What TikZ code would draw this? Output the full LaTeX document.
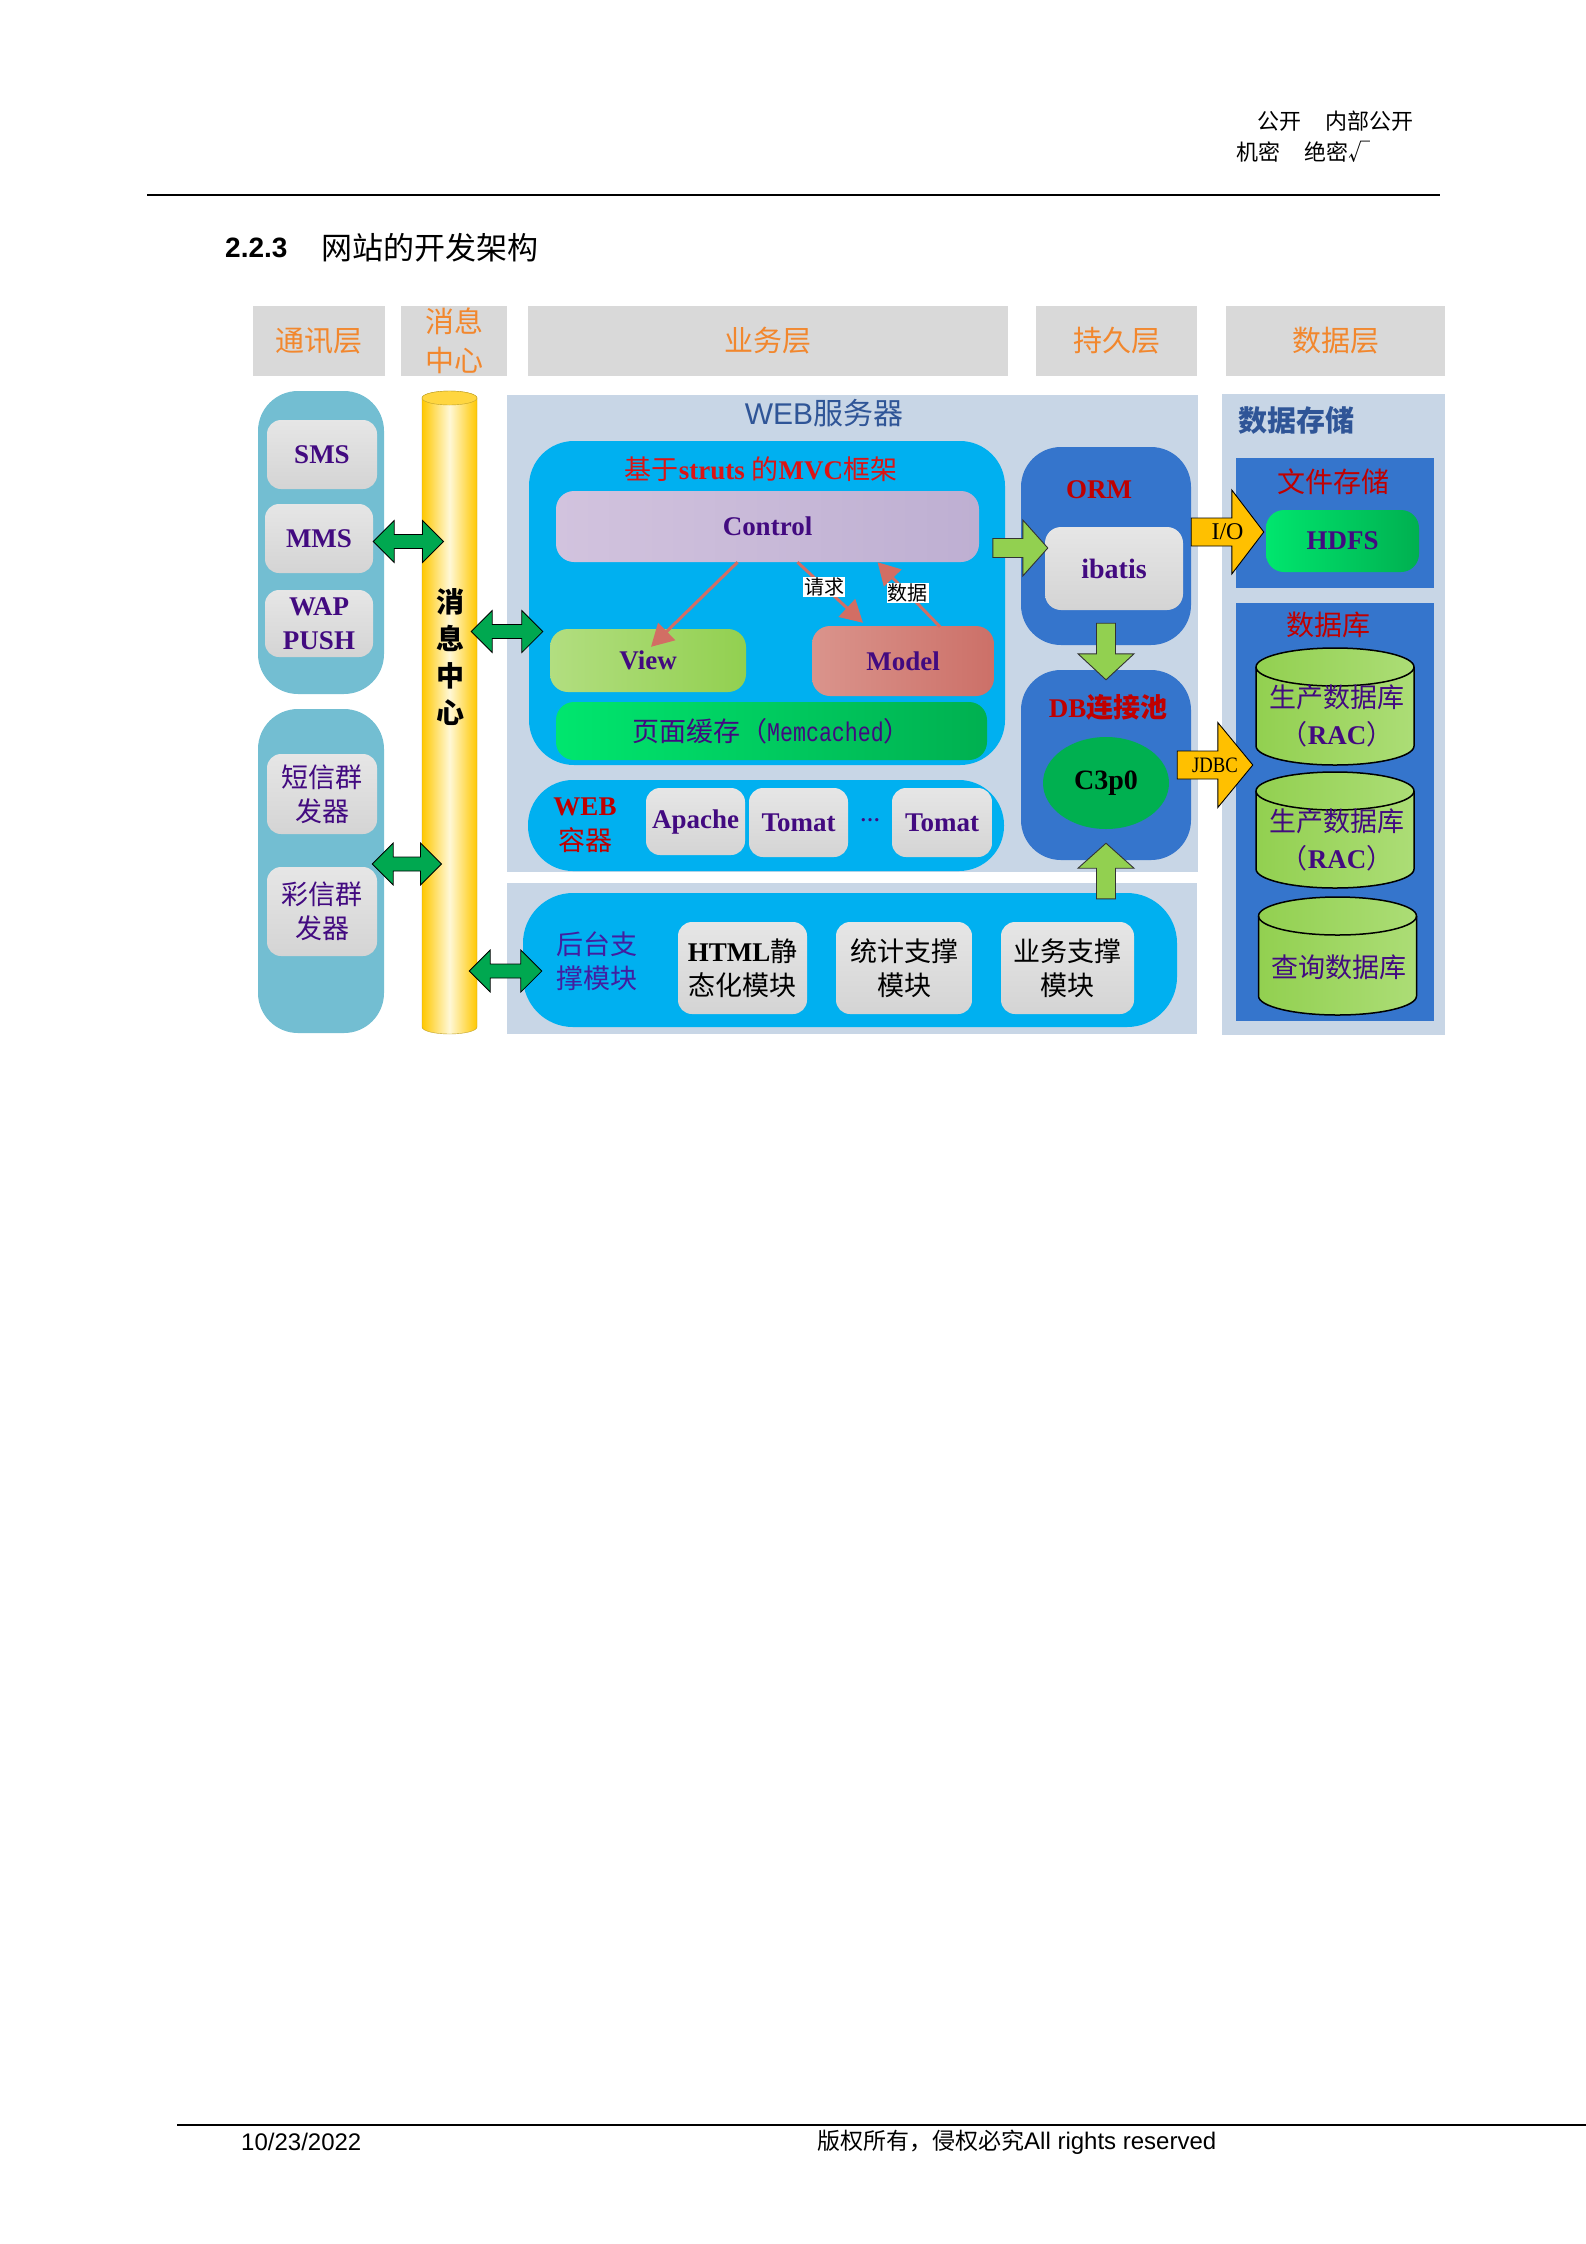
\documentclass[tikz,border=0pt]{standalone}
\usepackage{fontspec}
\usepackage{graphicx}
\setmainfont{Liberation Serif}
\newfontfamily\cnfont{Noto Sans CJK SC}
\newfontfamily\hvfont{Liberation Sans}
\newfontfamily\ttmfont{Liberation Mono}
\usetikzlibrary{calc,shapes.geometric,arrows.meta}
\definecolor{hdrgray}{RGB}{217,217,217}
\definecolor{hdrorange}{RGB}{242,135,45}
\definecolor{commblue}{RGB}{115,190,210}
\definecolor{boxtop}{RGB}{230,230,230}
\definecolor{boxbot}{RGB}{212,212,212}
\definecolor{txtpurple}{RGB}{66,10,128}
\definecolor{busgold}{RGB}{255,200,0}
\definecolor{busglow}{RGB}{255,248,215}
\definecolor{busedge}{RGB}{190,160,40}
\definecolor{arrowgreen}{RGB}{0,168,80}
\definecolor{panelgray}{RGB}{200,214,230}
\definecolor{titleblue}{RGB}{47,85,151}
\definecolor{mvccyan}{RGB}{0,176,240}
\definecolor{titlered}{RGB}{220,20,20}
\definecolor{darkred}{RGB}{192,0,0}
\definecolor{ctrlleft}{RGB}{210,195,222}
\definecolor{ctrlright}{RGB}{190,175,210}
\definecolor{viewleft}{RGB}{178,222,128}
\definecolor{viewright}{RGB}{146,208,80}
\definecolor{modelleft}{RGB}{218,148,140}
\definecolor{modelright}{RGB}{204,112,104}
\definecolor{cacheleft}{RGB}{0,230,110}
\definecolor{cacheright}{RGB}{0,176,80}
\definecolor{mvcarrow}{RGB}{210,110,100}
\definecolor{ormblue}{RGB}{53,117,204}
\definecolor{limegreen}{RGB}{146,208,80}
\definecolor{ioyellow}{RGB}{255,192,0}
\definecolor{poolgreen}{RGB}{0,176,80}
\definecolor{bgpurple}{RGB}{66,30,160}
\definecolor{dbleft}{RGB}{146,208,80}
\definecolor{dbright}{RGB}{172,221,118}
% block arrow: [style]{tail}{tip}{half shaft}{half head}{head length}
\newcommand{\blockarrow}[6][]{%
  \coordinate (ba-a) at (#2);
  \coordinate (ba-b) at (#3);
  \coordinate (ba-h) at ($(ba-b)!#6pt!(ba-a)$);
  \filldraw[#1] ($(ba-a)!#4pt!90:(ba-b)$) -- ($(ba-h)!#4pt!90:(ba-b)$) -- ($(ba-h)!#5pt!90:(ba-b)$) -- (ba-b)
    -- ($(ba-h)!#5pt!-90:(ba-b)$) -- ($(ba-h)!#4pt!-90:(ba-b)$) -- ($(ba-a)!#4pt!-90:(ba-b)$) -- cycle;
}
% double block arrow: [style]{tip}{tip}{half shaft}{half head}{head length}
\newcommand{\dblarrow}[6][]{%
  \coordinate (da-a) at (#2);
  \coordinate (da-b) at (#3);
  \coordinate (da-h) at ($(da-a)!#6pt!(da-b)$);
  \coordinate (da-k) at ($(da-b)!#6pt!(da-a)$);
  \filldraw[#1] (da-a) -- ($(da-h)!#5pt!90:(da-b)$) -- ($(da-h)!#4pt!90:(da-b)$) -- ($(da-k)!#4pt!90:(da-b)$)
    -- ($(da-k)!#5pt!90:(da-b)$) -- (da-b) -- ($(da-k)!#5pt!-90:(da-b)$) -- ($(da-k)!#4pt!-90:(da-b)$)
    -- ($(da-h)!#4pt!-90:(da-b)$) -- ($(da-h)!#5pt!-90:(da-b)$) -- cycle;
}
\begin{document}
\begin{tikzpicture}[x=1pt, y=-1pt,
  hdr/.style={fill=hdrgray, minimum height=70pt, inner sep=0pt, text=hdrorange, align=center, font=\cnfont\fontsize{29}{39}\selectfont},
  lpanel/.style={fill=commblue, rounded corners=40pt, minimum width=126pt, inner sep=0pt},
  gbox/.style={top color=boxtop, bottom color=boxbot, rounded corners=14pt, inner sep=0pt, text=txtpurple, align=center, font=\bfseries\fontsize{27}{34}\selectfont},
  cn/.style={font=\cnfont\fontsize{27}{34}\selectfont},
  mvcbox/.style={rounded corners=18pt, inner sep=0pt, text=txtpurple, font=\bfseries\fontsize{27}{32}\selectfont},
  redlbl/.style={text=darkred, font=\bfseries\fontsize{27}{32}\selectfont},
  flow/.style={draw=mvcarrow, line width=3pt, -{Triangle[length=22pt, width=24pt]}},
  tag/.style={fill=white, inner sep=1pt, font=\cnfont\fontsize{20}{24}\selectfont},
  dblarr/.style={fill=arrowgreen, draw=black, line width=0.8pt},
  limearr/.style={fill=limegreen, draw=black!80, line width=0.9pt},
  yarr/.style={fill=ioyellow, draw=black, line width=0.9pt}]

\useasboundingbox (0,0) rectangle (1586,2244);

% Page header
\node[anchor=east, font=\cnfont\fontsize{22}{26}\selectfont] (secA) at (1417,121) {公开\hspace{24pt}内部公开};
\node[anchor=east, font=\cnfont\fontsize{22}{26}\selectfont] (secB) at (1374,152) {机密\hspace{24pt}绝密√};
\draw[line width=2pt] (147,195) -- (1440,195);
\node[anchor=west, inner sep=0pt, font=\hvfont\bfseries\fontsize{28}{32}\selectfont] (secnum) at (225,248) {2.2.3};
\node[anchor=west, inner sep=0pt, font=\cnfont\fontsize{31}{36}\selectfont] (sectitle) at (321,248) {网站的开发架构};

% Column headers
\node[hdr, minimum width=132pt] (hcomm) at (319,341) {通讯层};
\node[hdr, minimum width=106pt] (hmsg) at (454,341) {消息\\中心};
\node[hdr, minimum width=480pt] (hbiz) at (768,341) {业务层};
\node[hdr, minimum width=161pt] (hper) at (1116.5,341) {持久层};
\node[hdr, minimum width=219pt] (hdata) at (1335.5,341) {数据层};

% Communication layer
\node[lpanel, minimum height=303pt] (comm1) at (321,542.5) {};
\node[lpanel, minimum height=324pt] (comm2) at (321,871) {};
\node[gbox, minimum width=110pt, minimum height=69pt] (sms) at (322,454.5) {SMS};
\node[gbox, minimum width=108pt, minimum height=69pt] (mms) at (319,538.5) {MMS};
\node[gbox, minimum width=108pt, minimum height=67pt] (wap) at (319,623.5) {WAP\\PUSH};
\node[gbox, cn, minimum width=110pt, minimum height=80pt] (dxq) at (322,794) {短信群\\发器};
\node[gbox, cn, minimum width=110pt, minimum height=89pt] (cxq) at (322,911.5) {彩信群\\发器};

% Message bus
\shadedraw[left color=busgold, right color=busgold, middle color=busglow, draw=busedge]
  (422,398) -- (422,1027) arc[start angle=180, end angle=360, x radius=27.5pt, y radius=7pt]
  -- (477,398) arc[start angle=0, end angle=180, x radius=27.5pt, y radius=7pt] -- cycle;
\filldraw[fill=busgold!70!busglow, draw=busedge] (449.5,398) ellipse [x radius=27.5pt, y radius=7pt];
\node[minimum width=55pt, minimum height=643pt, inner sep=0pt] (bus) at (449.5,712.5) {};
\node[align=center, font=\cnfont\bfseries\fontsize{28}{37}\selectfont] (bustext) at (450,657) {消\\息\\中\\心};

% Web server panels
\node[fill=panelgray, minimum width=691pt, minimum height=477pt, inner sep=0pt] (websrv) at (852.5,633.5) {};
\node[text=titleblue, font=\hvfont\fontsize{30}{34}\selectfont] (websrvlbl) at (824,413) {WEB{\cnfont 服务器}};
\node[fill=panelgray, minimum width=690pt, minimum height=151pt, inner sep=0pt] (support) at (852,958.5) {};

% MVC framework
\node[fill=mvccyan, rounded corners=45pt, minimum width=476pt, minimum height=324pt, inner sep=0pt] (mvc) at (767,603) {};
\node[text=titlered, font=\bfseries\fontsize{27}{32}\selectfont] (mvclbl) at (761,469) {{\cnfont\mdseries 基于}struts {\cnfont\mdseries 的}MVC{\cnfont\mdseries 框架}};
\node[mvcbox, left color=ctrlleft, right color=ctrlright, minimum width=423pt, minimum height=71pt] (control) at (767.5,526.5) {Control};
\node[mvcbox, left color=viewleft, right color=viewright, minimum width=196pt, minimum height=63pt] (view) at (648,660.5) {View};
\node[mvcbox, left color=modelleft, right color=modelright, minimum width=182pt, minimum height=70pt] (model) at (903,661) {Model};
\node[mvcbox, left color=cacheleft, right color=cacheright, minimum width=431pt, minimum height=58pt, font=\cnfont\fontsize{27}{32}\selectfont] (cache) at (771.5,731) {页面缓存（\scalebox{0.8}[1]{\ttmfont\fontsize{27}{32}\selectfont Memcached}）};

% MVC flows
\draw[flow] ($(control.south)+(-30,0)$) -- ($(view.north)+(3,18)$);
\draw[flow] ($(control.south)+(30,0)$) -- node[tag, pos=0.41] (reqlbl) {请求} ($(model.north)+(-40,-3)$);
\draw[flow] ($(model.north)+(37,1)$) -- node[tag, pos=0.52] (datlbl) {数据} ($(control.south)+(110,0)$);

% Web container
\node[fill=mvccyan, rounded corners=45pt, minimum width=476pt, minimum height=91pt, inner sep=0pt] (webc) at (766,825.5) {};
\node[redlbl, align=center, font=\bfseries\fontsize{27}{35}\selectfont] (webclbl) at (585,825) {WEB\\{\cnfont\mdseries 容器}};
\node[gbox, minimum width=99pt, minimum height=67pt] (apache) at (695.5,821.5) {Apache};
\node[gbox, minimum width=99pt, minimum height=69pt] (tomat1) at (798.5,822.5) {Tomat};
\node[text=txtpurple, font=\bfseries\fontsize{20}{24}\selectfont] (dots) at (870,820) {…};
\node[gbox, minimum width=100pt, minimum height=69pt] (tomat2) at (942,822.5) {Tomat};

% ORM and connection pool
\node[fill=ormblue, rounded corners=40pt, minimum width=170pt, minimum height=198pt, inner sep=0pt] (orm) at (1106,546) {};
\node[redlbl] (ormlbl) at (1099,490) {ORM};
\node[gbox, rounded corners=16pt, minimum width=138pt, minimum height=83pt, font=\bfseries\fontsize{28}{32}\selectfont] (ibatis) at (1114,568.5) {ibatis};
\node[fill=ormblue, rounded corners=40pt, minimum width=170pt, minimum height=190pt, inner sep=0pt] (dbpool) at (1106,765) {};
\node[redlbl] (poollbl) at (1108,707) {DB{\cnfont 连接池}};
\node[ellipse, fill=poolgreen, minimum width=126pt, minimum height=92pt, inner sep=0pt, font=\bfseries\fontsize{28}{32}\selectfont] (c3p0) at (1106,783) {C3p0};

% Backend support modules
\node[fill=mvccyan, rounded corners=50pt, minimum width=654pt, minimum height=134pt, inner sep=0pt] (bt) at (850,960) {};
\node[text=bgpurple, align=center, font=\cnfont\fontsize{27}{34}\selectfont] (btlbl) at (597,961) {后台支\\撑模块};
\node[gbox, cn, text=black, minimum width=129pt, minimum height=92pt] (html) at (742.5,968) {{\rmfamily\bfseries HTML}静\\态化模块};
\node[gbox, cn, text=black, minimum width=136pt, minimum height=92pt] (tj) at (904,968) {统计支撑\\模块};
\node[gbox, cn, text=black, minimum width=133pt, minimum height=92pt] (yw) at (1067.5,968) {业务支撑\\模块};

% Data storage
\node[fill=panelgray, minimum width=223pt, minimum height=641pt, inner sep=0pt] (store) at (1333.5,714.5) {};
\node[text=titleblue, font=\cnfont\bfseries\fontsize{29}{34}\selectfont] (storelbl) at (1296,420) {数据存储};
\node[fill=ormblue, minimum width=198pt, minimum height=130pt, inner sep=0pt] (fs) at (1335,523) {};
\node[text=darkred, font=\cnfont\fontsize{28}{32}\selectfont] (fslbl) at (1333,482) {文件存储};
\node[mvcbox, left color=cacheleft, right color=cacheright, minimum width=153pt, minimum height=62pt] (hdfs) at (1342.5,541) {HDFS};
\node[fill=ormblue, minimum width=198pt, minimum height=418pt, inner sep=0pt] (dbs) at (1335,812) {};
\node[text=darkred, font=\cnfont\fontsize{28}{32}\selectfont] (dbslbl) at (1328,625) {数据库};

% Database cylinders
\foreach \yt/\yb/\cx in {667/746/1335, 791/869/1335, 916/996/1337.5} {
  \shadedraw[left color=dbleft, right color=dbright, draw=black, line width=1.5pt]
    (\cx-79,\yt) -- (\cx-79,\yb) arc[start angle=180, end angle=360, x radius=79pt, y radius=19pt]
    -- (\cx+79,\yt) arc[start angle=0, end angle=180, x radius=79pt, y radius=19pt] -- cycle;
  \draw[black, line width=1.5pt] (\cx-79,\yt) arc[start angle=180, end angle=360, x radius=79pt, y radius=19pt];
}
\node[text=txtpurple, align=center, font=\cnfont\fontsize{27}{37}\selectfont] (db1) at (1337,716) {生产数据库\\（{\rmfamily\bfseries RAC}）};
\node[text=txtpurple, align=center, font=\cnfont\fontsize{27}{37}\selectfont] (db2) at (1337,840) {生产数据库\\（{\rmfamily\bfseries RAC}）};
\node[text=txtpurple, font=\cnfont\fontsize{27}{37}\selectfont] (db3) at (1339,967) {查询数据库};

% Message bus links
\dblarrow[dblarr]{$(mms.east)+(0,3)$}{$(mms.east -| bus.center)+(-6,3)$}{7}{21}{21}
\dblarrow[dblarr]{$(bus.east |- websrv.west)+(-6,-2)$}{$(websrv.west)+(36,-2)$}{7}{21}{21}
\dblarrow[dblarr]{$(comm2.east)+(-12,-7)$}{$(comm2.east -| bus.center)+(-8,-7)$}{7}{21}{21}
\dblarrow[dblarr]{$(bus.east |- bt.west)+(-8,11)$}{$(bt.west)+(19,11)$}{7}{21}{21}

% Persistence links
\blockarrow[limearr]{$(orm.west)+(-28,2)$}{$(orm.west)+(27,2)$}{9.5}{28}{25}
\blockarrow[limearr]{$(ibatis.south -| orm.center)+(0,13)$}{$(dbpool.north)+(0,10)$}{9.5}{28}{26}
\blockarrow[limearr]{$(bt.north -| dbpool.center)+(0,6)$}{$(dbpool.south)+(0,-17)$}{9.5}{28}{25}
\blockarrow[yarr]{$(orm.east)+(0,-14)$}{$(hdfs.west)+(-2,-9)$}{14}{42}{32}
\node[font=\fontsize{24}{28}\selectfont] (iolbl) at ($(ba-a)!0.5!(ba-b)$) {I/O};
\blockarrow[yarr]{$(dbpool.east)+(-14,0)$}{$(dbpool.east -| dbs.west)+(17,0)$}{14}{42.5}{35}
\node[font=\fontsize{22}{26}\selectfont] (jdbclbl) at ($(ba-a)!0.5!(ba-b)$) {\scalebox{0.85}[1]{JDBC}};

% Page footer
\draw[line width=1.5pt] (177,2125) -- (1586,2125);
\node[anchor=west, inner sep=0pt, font=\hvfont\fontsize{24}{28}\selectfont] (fdate) at (241,2142) {10/23/2022};
\node[anchor=west, inner sep=0pt, font=\cnfont\fontsize{23}{28}\selectfont] (fcopy) at (817,2142) {版权所有，侵权必究{\hvfont\fontsize{24}{28}\selectfont All rights reserved}};

\end{tikzpicture}
\end{document}
